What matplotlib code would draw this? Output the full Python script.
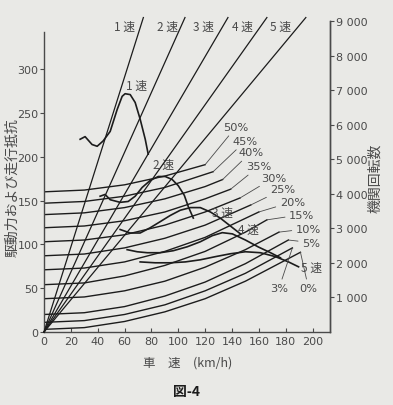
import matplotlib
matplotlib.use('Agg')
import matplotlib.pyplot as plt

plt.rcParams['font.family'] = ['DejaVu Sans', 'Noto Sans CJK JP']

# ---------------- data ----------------
speed_ticks = [0, 20, 40, 60, 80, 100, 120, 140, 160, 180, 200]
force_ticks = [0, 50, 100, 150, 200, 250, 300]
rpm_ticks = [1000, 2000, 3000, 4000, 5000, 6000, 7000, 8000, 9000]
rpm_tick_labels = ['1 000', '2 000', '3 000', '4 000', '5 000',
                   '6 000', '7 000', '8 000', '9 000']

# gear lines: engine speed vs vehicle speed (speed reached at top rpm)
gear_names = ['1 速', '2 速', '3 速', '4 速', '5 速']
gear_top_speed = [74, 105, 137, 166, 195]
gear_top_rpm = 9100
gear_label_x = [60, 92, 119, 148, 176]
gear_label_rpm = 8830

# running resistance curves for each gradient
grade_labels = ['50%', '45%', '40%', '35%', '30%', '25%',
                '20%', '15%', '10%', '5%', '3%', '0%']
res_50_v = [0, 30, 60, 90, 120]
res_50_f = [160, 162, 168, 178, 191]
res_45_v = [0, 30, 60, 90, 126]
res_45_f = [147, 149, 155, 165, 183]
res_40_v = [0, 30, 60, 90, 120, 133]
res_40_f = [134, 136, 142, 152, 166, 174]
res_35_v = [0, 30, 60, 90, 120, 139]
res_35_f = [119, 121, 127, 137, 152, 163]
res_30_v = [0, 30, 60, 90, 120, 146]
res_30_f = [103, 105, 111, 122, 137, 153]
res_25_v = [0, 30, 60, 90, 120, 154]
res_25_f = [87, 89, 96, 107, 122, 145]
res_20_v = [0, 30, 60, 90, 120, 160]
res_20_f = [71, 73, 80, 92, 108, 137]
res_15_v = [0, 30, 60, 90, 120, 150, 166]
res_15_f = [54, 56, 64, 76, 92, 114, 128]
res_10_v = [0, 30, 60, 90, 120, 150, 175]
res_10_f = [38, 40, 47, 58, 74, 94, 114]
res_5_v = [0, 30, 60, 90, 120, 150, 182]
res_5_f = [20, 22, 29, 41, 57, 78, 105]
res_3_v = [0, 30, 60, 90, 120, 150, 185]
res_3_f = [11, 13, 20, 31, 47, 67, 96]
res_0_v = [0, 30, 60, 90, 120, 150, 191]
res_0_f = [3, 5, 12, 23, 38, 58, 91]
grade_label_x = [143, 150, 154, 160, 171, 178, 185, 192, 197, 199, 175, 197]
grade_label_y = [234, 218, 205, 189, 176, 163, 148.5, 134, 118, 102, 50, 50]

# driving force curves for each gear
drive1_v = [26.9, 30.6, 35.8, 39.6, 44.0, 49.3, 54.5, 58.2, 60.4, 64.2, 67.9, 71.6, 75.4, 77.6]
drive1_f = [220, 223, 214, 212, 218, 229, 254, 269, 272, 271, 262, 243, 220, 203]
drive2_v = [41.8, 45.5, 49.3, 56.7, 62.7, 67.9, 73.1, 79.1, 85.1, 90.3, 95.5, 100.0, 104.5, 107.5, 111.2]
drive2_f = [155, 157, 151, 148, 149, 155, 165, 173, 177.5, 177.5, 174, 167, 156, 143, 130]
drive3_v = [56.7, 64.2, 71.6, 79.1, 86.6, 94.0, 101.5, 109.0, 116.4, 123.9, 131.3, 138.8, 146.3]
drive3_f = [117, 113, 113, 119, 126, 133, 139, 142, 142, 137, 130, 121, 112]
drive4_v = [61.9, 69.4, 76.9, 86.6, 96.3, 106.7, 116.4, 125.4, 132.8, 140.3, 150.0, 159.7, 168.7, 176.1]
drive4_f = [94, 91.6, 90.5, 90.5, 92.8, 97.3, 103, 110, 113.4, 112, 105, 97, 90.5, 84.7]
drive5_v = [71.6, 82.8, 94.0, 105.2, 116.4, 127.6, 138.8, 150.0, 161.2, 172.4, 182.1, 189.6]
drive5_f = [80, 79, 79, 80, 82.4, 86, 89.3, 91.6, 90.5, 86, 80, 74.4]
drive_label_x = [69, 89, 133, 152, 199]
drive_label_y = [281, 191, 137, 117, 74]

# ---------------- figure ----------------
ink = '#1c1c1c'
grey = '#4a4a4a'
bg = '#e9e9e6'

fig = plt.figure(figsize=(3.93, 4.06), dpi=100, facecolor=bg)
ax = fig.add_axes([44 / 393, 73 / 406, 286 / 393, 311 / 406])
ax.set_facecolor('none')
ax.set_xlim(0, 213)
ax.set_ylim(0, 355)

ax2 = ax.twinx()
ax2.set_ylim(0, 9000)
ax2.set_facecolor('none')

for a in (ax, ax2):
    a.spines['top'].set_visible(False)
    for s in a.spines.values():
        s.set_color(grey)
        s.set_linewidth(1.0)
ax.spines['left'].set_bounds(0, 342)
ax2.spines['left'].set_visible(False)
ax2.spines['bottom'].set_visible(False)

ax.set_xticks(speed_ticks)
ax.set_xticklabels([str(t) for t in speed_ticks])
ax.set_yticks(force_ticks)
ax.set_yticklabels([str(t) for t in force_ticks])
ax.tick_params(axis='x', direction='in', length=3, width=0.8, colors=grey,
               labelsize=8, pad=3)
ax.tick_params(axis='y', direction='out', length=3, width=0.8, colors=grey,
               labelsize=8, pad=1)
ax2.set_yticks(rpm_ticks)
ax2.set_yticklabels(rpm_tick_labels)
ax2.tick_params(axis='y', direction='out', length=3, width=0.8, colors=grey,
                labelsize=8, pad=1)

# gear lines (engine rpm axis)
for name, vmax, lx in zip(gear_names, gear_top_speed, gear_label_x):
    ax2.plot([0, vmax], [0, gear_top_rpm], color=ink, lw=0.9, clip_on=False)
    ax2.text(lx, gear_label_rpm, name, fontsize=8.5, color=grey,
             ha='center', va='center', family=['Noto Sans CJK JP', 'DejaVu Sans'])

# resistance curves
res_v = [res_50_v, res_45_v, res_40_v, res_35_v, res_30_v, res_25_v,
         res_20_v, res_15_v, res_10_v, res_5_v, res_3_v, res_0_v]
res_f = [res_50_f, res_45_f, res_40_f, res_35_f, res_30_f, res_25_f,
         res_20_f, res_15_f, res_10_f, res_5_f, res_3_f, res_0_f]
for lab, vv, ff, lx, ly in zip(grade_labels, res_v, res_f, grade_label_x, grade_label_y):
    ax.plot(vv, ff, color=ink, lw=1.0)
    ax.annotate(lab, xy=(vv[-1], ff[-1]), xytext=(lx, ly), fontsize=8.2,
                color=grey, ha='center', va='center',
                arrowprops=dict(arrowstyle='-', color=grey, lw=0.6,
                                shrinkA=1, shrinkB=0))

# driving force curves
drive_v = [drive1_v, drive2_v, drive3_v, drive4_v, drive5_v]
drive_f = [drive1_f, drive2_f, drive3_f, drive4_f, drive5_f]
for name, vv, ff, lx, ly in zip(gear_names, drive_v, drive_f, drive_label_x, drive_label_y):
    ax.plot(vv, ff, color=ink, lw=1.2)
    ax.text(lx, ly, name, fontsize=8.5, color=grey, ha='center', va='center',
            family=['Noto Sans CJK JP', 'DejaVu Sans'])

# axis titles
fig.text(12 / 393, (406 - 188) / 406, '駆動力および走行抵抗', rotation=90,
         fontsize=10, color=grey, ha='center', va='center',
         family=['Noto Sans CJK JP', 'DejaVu Sans'])
fig.text(375 / 393, (406 - 178) / 406, '機関回転数', rotation=90,
         fontsize=10, color=grey, ha='center', va='center',
         family=['Noto Sans CJK JP', 'DejaVu Sans'])
fig.text(188 / 393, (406 - 363) / 406, '車　速　(km/h)', fontsize=9,
         color=grey, ha='center', va='center',
         family=['Noto Sans CJK JP', 'DejaVu Sans'])
fig.text(187 / 393, (406 - 392) / 406, '図-4', fontsize=10, color=ink,
         fontweight='bold', ha='center', va='center',
         family=['Noto Sans CJK JP', 'DejaVu Sans'])

fig.savefig('out.png', dpi=100, facecolor=bg)
